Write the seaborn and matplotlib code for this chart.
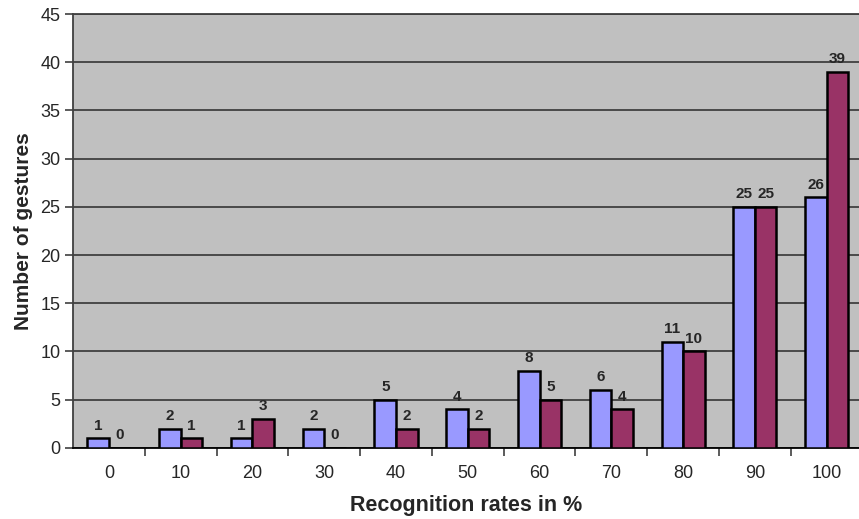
import numpy as np
import pandas as pd
import seaborn as sns
import matplotlib.pyplot as plt
from matplotlib.ticker import FixedLocator

rates=['0','10','20','30','40','50','60','70','80','90','100']
series_a=[1,2,1,2,5,4,8,6,11,25,26]
series_b=[0,1,3,0,2,2,5,4,10,25,39]
series_names=['Series 1','Series 2']

df=pd.DataFrame({'rate':rates*2,
                 'count':series_a+series_b,
                 'series':[series_names[0]]*len(rates)+[series_names[1]]*len(rates)})

sns.set_style('ticks')
plt.rcParams['font.family']=['Liberation Sans','DejaVu Sans']

fig=plt.figure(figsize=(8.59,5.19),dpi=100)
ax=fig.add_axes([0.085,0.137,0.915,0.836])
ax.set_facecolor('#C0C0C0')
sns.barplot(data=df,x='rate',y='count',hue='series',order=rates,
            palette=['#9999FF','#993366'],width=0.6,edgecolor='black',
            linewidth=1.8,ax=ax,zorder=3,legend=False,saturation=1)
for c in ax.containers:
    ax.bar_label(c,padding=4,fontsize=11,fontweight='bold')

ax.set_ylim(0,45)
ax.set_yticks(range(0,46,5))
ax.set_xlim(-0.5,10.45)
ax.yaxis.grid(True,color='#404040',linewidth=1.3,zorder=0)
ax.set_axisbelow(True)
ax.xaxis.set_minor_locator(FixedLocator(np.arange(0.5,10,1)))
ax.tick_params(axis='x',which='major',length=0,pad=12,labelsize=13)
ax.tick_params(axis='x',which='minor',length=6,width=1.2,color='#404040',direction='out')
ax.tick_params(axis='y',length=6,width=1.2,color='#404040',labelsize=13,pad=3)
for s in ['left','top','bottom']:
    ax.spines[s].set_color('#404040')
    ax.spines[s].set_linewidth(1.3)
ax.spines['right'].set_visible(False)
ax.spines['bottom'].set_color('black')
ax.set_xlabel('Recognition rates in %',fontsize=15.5,fontweight='bold',labelpad=10)
ax.set_ylabel('Number of gestures',fontsize=15,fontweight='bold',labelpad=5)
fig.savefig('out.png',dpi=100)
